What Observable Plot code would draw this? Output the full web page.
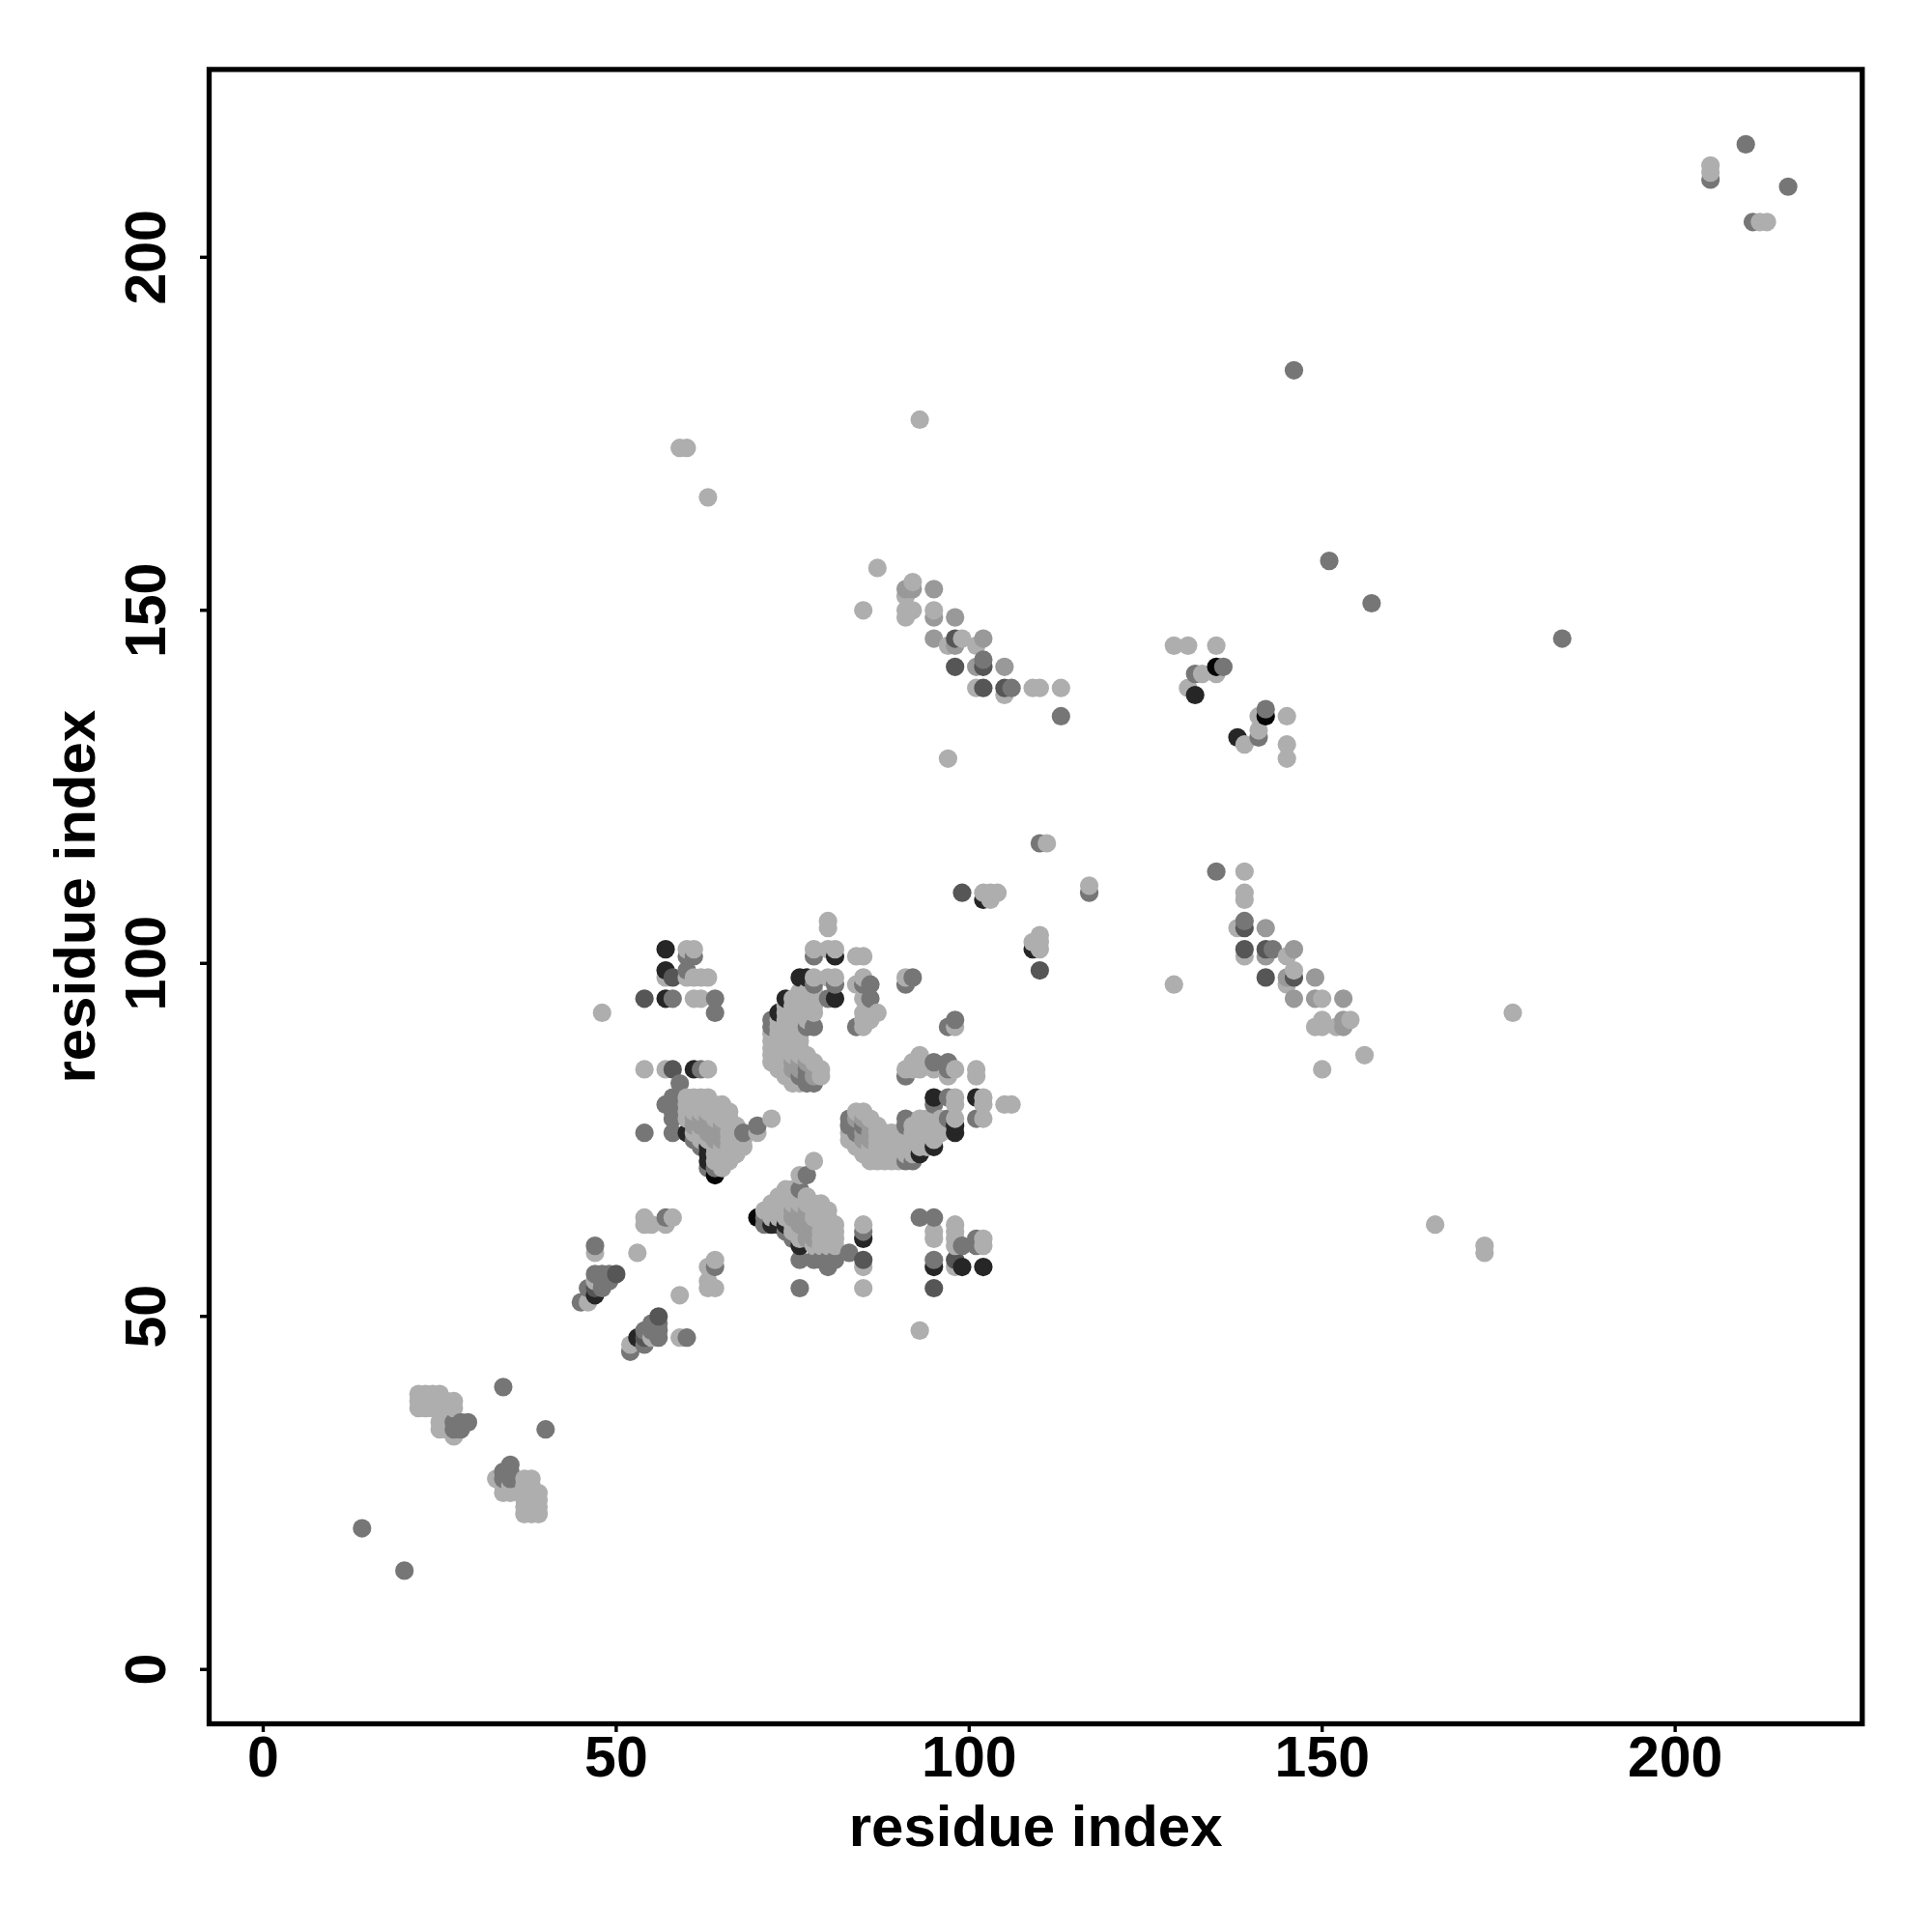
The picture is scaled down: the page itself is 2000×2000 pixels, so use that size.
<!DOCTYPE html>
<html>
<head>
<meta charset="utf-8">
<style>html,body{margin:0;padding:0;background:#fff}</style>
<script src="https://cdn.jsdelivr.net/npm/d3@7"></script>
<script src="https://cdn.jsdelivr.net/npm/@observablehq/plot@0.6"></script>
</head>
<body>
<div id="chart"></div>
<script>
const tickValues = [0, 50, 100, 150, 200];
const axisTitle = "residue index";

// residue pairs [i, j], i < j; the map is symmetric, each pair also appears as [j, i]
const lightPairs = [
[22,37],[22,38],[22,39],[23,37],[23,38],[23,39],[24,37],[24,38],[24,39],[25,37],[25,38],[25,39],
[26,37],[26,38],[27,37],[27,38],[25,34],[25,35],[26,34],[26,35],[27,33],
[46,52],[47,55],[47,59],[53,59],[54,63],[54,64],[55,63],[57,63],[58,64],[48,93],[54,85],[57,85],[63,85],
[57,98],[60,98],[61,98],[62,98],[63,98],[61,95],[62,95],[60,102],[61,102],
[60,81],[61,81],[62,81],[63,81],
[60,80],[61,80],[62,80],[63,80],[64,80],[65,80],
[60,79],[61,79],[62,79],[63,79],[64,79],[65,79],[66,79],
[60,78],[61,78],[62,78],[63,78],[64,78],[65,78],[66,78],
[61,77],[62,77],[63,77],[64,77],[65,77],[66,77],[67,77],
[61,76],[62,76],[63,76],[64,76],[65,76],[66,76],[67,76],
[62,75],[63,75],[64,75],[65,75],[66,75],[67,75],[68,75],
[63,74],[64,74],[65,74],[66,74],[67,74],[68,74],
[64,73],[65,73],[66,73],[67,73],
[64,72],[65,72],[66,72],[65,71],
[70,76],[72,78],
[76,96],[77,96],[78,96],[75,95],[76,95],[77,95],[78,95],
[74,94],[75,94],[76,94],[77,94],[78,94],[74,93],[75,93],[76,93],[77,93],[78,93],
[73,92],[74,92],[75,92],[76,92],[77,92],[73,91],[74,91],[75,91],[76,91],
[72,90],[73,90],[74,90],[75,90],[76,90],[72,89],[73,89],[74,89],[75,89],[76,89],
[72,88],[73,88],[74,88],[75,88],[76,88],[72,87],[73,87],[74,87],[75,87],[76,87],[77,87],
[72,86],[73,86],[74,86],[78,86],
[73,85],[74,85],[79,85],[74,84],[75,84],[79,84],[75,83],[76,83],
[78,98],[80,98],[81,98],[78,102],[80,102],[81,102],[80,105],[80,106],[84,101],[85,101],
[84,97],[85,98],[85,95],[85,91],[85,92],[85,93],[86,92],[86,93],[87,93],
[91,98],[98,91],[91,85],[92,85],[92,86],[93,85],[93,86],[93,87],[95,85],[97,84],[98,85],[101,84],[101,85],
[98,80],[98,81],[102,80],[102,81],[98,78],[102,78],[105,80],[106,80],
[59,173],[60,173],[63,166],[93,177],[87,156],[85,150],[92,154],[91,152],[91,150],[92,150],[91,149],[95,150],
[97,129],[97,145],[99,146],[101,145],[101,139],[105,138],[109,139],[110,139],[113,139],
[129,145],[131,145],[135,145],[133,141],[135,141],[131,139],[141,135],[145,135],[141,133],[145,131],[145,129],
[111,117],[102,110],[103,110],[104,110],[103,109],
[205,212],[205,213]
];
const softPairs = [
[61,78],[62,78],[63,78],[61,77],[62,77],[63,77],[64,77],[63,76],[64,76],[65,76],[64,75],[65,75],[65,77],
[75,85],[76,85],[75,86],[76,86],[77,86],[78,85],[78,84],
[91,153],[92,153],[95,153],[95,149],[98,149],[95,146],[98,145],[101,142],[105,142],
[102,146]
];
const midPairs = [
[14,20],[34,40],[27,34],[27,35],[28,34],[28,35],[29,35],
[45,52],[46,54],[47,60],[47,56],[48,54],[48,55],[48,56],[49,55],[49,56],
[54,76],[57,64],[57,80],[58,76],[58,78],[58,79],[58,80],[58,81],[58,95],[59,83],[60,99],[60,101],[61,101],
[62,85],[64,93],[64,95],[62,74],[61,75],[63,71],[64,71],[68,76],[70,77],
[72,91],[72,92],[77,91],[78,91],[77,83],[78,83],[76,84],[77,84],[77,85],[78,97],[78,101],[80,95],[81,97],
[84,91],[85,97],[86,95],[86,97],[91,97],[92,98],[98,92],[97,91],
[106,139],[113,135],[102,143],[132,141],[136,142],
[110,117],[146,184],[205,211],[210,216],[151,157]
];
const slatePairs = [
[47,54],[50,56],[54,95],[58,85],[58,98],[98,146],[98,142],[102,139],[105,139],[102,142],[99,110]
];
const darkPairs = [
[47,53],[57,99],[57,102],[61,85],[60,76],[63,72],[63,73],[63,74],[73,93],[74,95],[76,98],[77,98],[81,95],[81,101],
[57,95],[132,138],[102,109]
];
const blackPairs = [
[64,70],[135,142]
];

const toneColors = {light:"#aeaeae", soft:"#999999", mid:"#767676", slate:"#565656", dark:"#262626", black:"#050505"};
const tonePairs = [["light",lightPairs],["soft",softPairs],["mid",midPairs],["slate",slatePairs],["dark",darkPairs],["black",blackPairs]];

// later tones override earlier ones for the same pair; drawn in order of x, then y
const cells = new Map();
for (const [tone, pairs] of tonePairs) {
  for (const [i, j] of pairs) {
    cells.set(`${i},${j}`, {x:i, y:j, tone});
    cells.set(`${j},${i}`, {x:j, y:i, tone});
  }
}
const points = Array.from(cells.values()).sort((a,b) => d3.ascending(a.x,b.x) || d3.ascending(a.y,b.y));

const font = "'Liberation Sans', Arial, sans-serif";
const plot = Plot.plot({
  width: 2000,
  height: 2000,
  marginLeft: 216,
  marginRight: 2000 - 1927.3,
  marginTop: 71.4,
  marginBottom: 2000 - 1784,
  style: {fontFamily: font, background: "#fff", color: "#000"},
  x: {domain: [-7.66, 226.5]},
  y: {domain: [-7.70, 226.6]},
  color: {type: "ordinal", domain: Object.keys(toneColors), range: Object.values(toneColors)},
  marks: [
    Plot.dot(points, {x: "x", y: "y", fill: "tone", r: 9.6, stroke: "none"}),
    Plot.frame({stroke: "#000", strokeWidth: 5.3}),
    Plot.axisX({ticks: tickValues, tickSize: 9, tickPadding: 4, strokeWidth: 3.4, fontSize: 59, fontWeight: "bold",
      label: null, stroke: "#000", fill: "#000"}),
    Plot.axisX({ticks: [], fontSize: 60, fontWeight: "bold", tickSize: 0,
      label: axisTitle, labelAnchor: "center", labelOffset: 126, labelArrow: "none", fill: "#000"}),
    Plot.axisY({ticks: tickValues, tickSize: 9, tickPadding: 37, strokeWidth: 3.4, fontSize: 59, fontWeight: "bold", tickRotate: -90,
      label: null, stroke: "#000", fill: "#000"}),
    Plot.axisY({ticks: [], fontSize: 60, fontWeight: "bold", tickSize: 0,
      label: axisTitle, labelAnchor: "center", labelOffset: 161, labelArrow: "none", fill: "#000"})
  ]
});
document.getElementById("chart").appendChild(plot);
</script>
</body>
</html>
